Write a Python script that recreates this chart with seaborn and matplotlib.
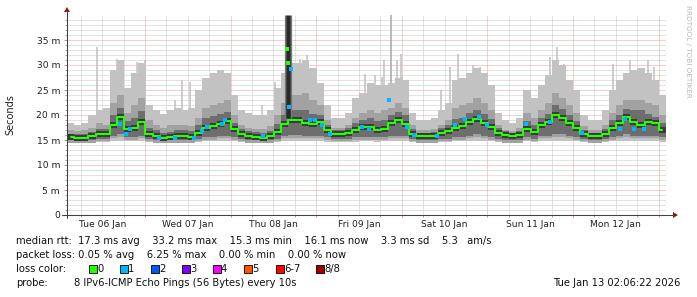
import numpy as np
import pandas as pd
import matplotlib
matplotlib.use("Agg")
import matplotlib.pyplot as plt
from matplotlib.patches import Rectangle, Polygon
from matplotlib.lines import Line2D
import seaborn as sns

# ---------------- data (hours since Tue 06 Jan 02:06, values in ms) ----------------
bin_hours = list(range(1, 168, 2))  # 2-hour bins, centre hours

rtt_median = [15.6, 15.5, 15.5, 15.8, 16.3, 16.2, 18.0, 19.6, 17.2, 17.5, 18.6, 16.3,
              15.8, 15.5, 15.6, 15.8, 15.8, 15.6, 16.4, 17.4, 17.8, 18.3, 18.8, 17.2,
              16.2, 15.8, 15.6, 15.5, 15.8, 16.6, 18.2, 19.0, 19.0, 18.5, 18.2, 18.6,
              17.0, 16.3, 16.3, 16.5, 17.0, 17.6, 17.6, 17.0, 17.3, 18.5, 19.0, 18.2,
              16.3, 15.8, 15.8, 15.8, 16.4, 16.8, 17.5, 17.8, 18.6, 19.2, 18.4, 17.6,
              16.5, 16.0, 15.8, 16.0, 17.2, 16.6, 18.0, 18.6, 20.0, 19.4, 18.5, 17.4,
              16.2, 15.8, 15.8, 16.2, 17.5, 18.5, 19.6, 18.6, 18.0, 18.6, 18.4, 17.0]

rtt_max = [18.5, 18.0, 18.5, 20.0, 21.0, 21.5, 29.0, 31.0, 25.5, 28.5, 30.5, 22.0,
           21.0, 20.3, 21.0, 21.5, 21.0, 21.5, 25.0, 27.5, 28.5, 29.0, 28.5, 24.0,
           21.0, 20.5, 20.0, 20.0, 21.0, 25.5, 28.5, 30.5, 30.5, 31.0, 29.5, 26.5,
           22.0, 19.5, 19.5, 20.5, 23.5, 24.5, 26.5, 26.0, 26.0, 26.5, 27.5, 27.0,
           20.5, 19.0, 19.0, 19.5, 21.0, 22.5, 27.0, 27.5, 28.5, 29.5, 28.5, 26.0,
           20.5, 19.0, 18.5, 19.5, 25.0, 23.5, 26.0, 28.0, 31.0, 30.0, 27.0, 25.0,
           20.0, 19.0, 19.0, 21.0, 25.0, 27.0, 28.5, 29.0, 29.5, 28.5, 27.0, 24.0]

rtt_p7 = [17.0, 16.8, 17.0, 17.5, 18.5, 18.0, 22.5, 24.0, 20.5, 22.0, 23.5, 19.0,
          18.0, 17.5, 18.0, 18.0, 18.0, 17.8, 19.5, 21.5, 22.0, 22.5, 23.0, 20.0,
          18.0, 17.5, 17.3, 17.2, 17.8, 20.0, 22.5, 24.0, 24.0, 24.5, 23.0, 22.0,
          19.0, 17.5, 17.5, 18.0, 19.5, 20.5, 21.0, 20.5, 21.0, 21.5, 22.5, 21.5,
          18.0, 17.0, 17.0, 17.2, 18.0, 19.0, 21.5, 22.0, 22.5, 23.5, 22.5, 21.0,
          18.0, 17.0, 16.8, 17.5, 20.5, 19.5, 21.0, 22.5, 24.5, 23.5, 22.0, 20.5,
          17.8, 17.0, 17.0, 18.0, 20.5, 22.0, 23.0, 23.0, 23.0, 22.5, 22.0, 20.0]

rtt_p6 = [16.3, 16.2, 16.3, 16.7, 17.3, 17.3, 20.0, 21.5, 18.8, 19.5, 20.8, 17.5,
          17.0, 16.5, 16.7, 17.0, 17.0, 16.8, 18.0, 19.3, 19.8, 20.2, 20.6, 18.5,
          17.2, 16.8, 16.6, 16.5, 16.8, 18.3, 20.0, 21.0, 21.0, 21.0, 20.2, 20.0,
          18.0, 17.0, 17.0, 17.5, 18.3, 19.0, 19.3, 18.7, 19.0, 20.0, 20.6, 20.0,
          17.2, 16.5, 16.5, 16.7, 17.5, 18.0, 19.2, 19.5, 20.5, 21.0, 20.2, 19.2,
          17.5, 16.8, 16.5, 16.8, 18.7, 18.0, 19.5, 20.3, 22.0, 21.3, 20.0, 18.8,
          17.1, 16.5, 16.5, 17.2, 19.0, 20.0, 21.2, 21.1, 21.0, 20.3, 19.7, 18.3]

rtt_p3 = [15.0, 15.0, 15.0, 15.0, 15.3, 15.3, 15.9, 16.2, 15.6, 15.6, 15.9, 15.3,
          15.0, 15.0, 15.0, 15.0, 15.0, 15.0, 15.3, 15.6, 15.6, 15.9, 15.9, 15.6,
          15.3, 15.0, 15.0, 15.0, 15.0, 15.3, 15.9, 16.0, 16.0, 15.9, 15.9, 15.9,
          15.6, 15.3, 15.3, 15.3, 15.6, 15.6, 15.6, 15.6, 15.6, 15.9, 15.9, 15.9,
          15.3, 15.0, 15.0, 15.0, 15.3, 15.3, 15.6, 15.6, 15.9, 16.2, 15.9, 15.6,
          15.3, 15.0, 15.0, 15.0, 15.6, 15.3, 15.9, 15.9, 16.2, 16.2, 15.9, 15.6,
          15.3, 15.0, 15.0, 15.3, 15.6, 15.9, 16.2, 15.9, 15.9, 15.9, 15.9, 15.6]

rtt_min = [14.6, 14.6, 14.6, 14.6, 14.6, 14.6, 14.8, 14.8, 14.8, 14.8, 14.8, 14.6,
           14.6, 14.6, 14.6, 14.6, 14.6, 14.6, 14.6, 14.8, 14.8, 14.8, 14.8, 14.8,
           14.6, 14.6, 14.6, 14.6, 14.6, 14.6, 14.8, 14.8, 14.8, 14.8, 14.8, 14.8,
           14.6, 14.6, 14.6, 14.6, 14.6, 14.8, 14.8, 14.6, 14.8, 14.8, 14.8, 14.8,
           14.6, 14.6, 14.6, 14.6, 14.6, 14.6, 14.8, 14.8, 14.8, 14.8, 14.8, 14.8,
           14.6, 14.6, 14.6, 14.6, 14.8, 14.6, 14.8, 14.8, 14.8, 14.8, 14.8, 14.8,
           14.6, 14.6, 14.6, 14.6, 14.8, 14.8, 14.8, 14.8, 14.8, 14.8, 14.8, 14.6]

# isolated short spikes of the smoke (hour, top in ms, shade level)
spike_hours = [8.4, 13.9, 19.6, 21.9, 30.3, 32.2, 34.4, 41.0, 42.4, 54.6, 58.4, 65.4, 67.3,
               83.6, 86.5, 88.4, 88.9, 90.8, 92.5, 93.7, 94.0, 105.0, 107.5, 109.6, 114.0,
               115.9, 135.6, 137.5, 139.3, 153.2, 158.0, 163.0, 164.5]
spike_tops = [33.6, 31.3, 30.6, 31.0, 23.0, 27.0, 26.7, 28.3, 28.0, 22.0, 26.7, 31.3, 32.0,
              28.3, 28.0, 27.7, 31.0, 40.0, 31.0, 32.3, 27.7, 25.0, 29.7, 32.3, 30.0,
              29.7, 31.7, 33.7, 30.3, 30.3, 31.0, 31.0, 29.7]
spike_shade = [0, 0, 0, 0, 0, 0, 0, 0, 0, 0, 0, 0, 0,
               0, 0, 0, 0, 1, 0, 0, 0, 0, 0, 0, 0,
               0, 0, 0, 0, 0, 0, 0, 0]

# the big spike on Thursday
big_spike_hours = [61.9]
big_spike_top = [40.0]
big_spike_bottom = [19.5]
big_spike_median_hours = [61.6, 62.1]
big_spike_median_values = [33.3, 30.5]

# median samples with 1 lost ping (blue)
loss1_hours = [14.9, 16.6, 17.8, 25.9, 30.3, 35.5, 37.8, 39.2, 43.4, 44.4, 55.1, 62.3, 62.9,
               68.2, 69.6, 71.5, 73.8, 82.7, 84.6, 90.4, 95.4, 97.2, 103.8, 108.9, 111.7,
               115.5, 117.8, 128.8, 135.6, 144.5, 155.2, 156.6, 158.9, 161.8]
loss1_values = [18.3, 16.2, 17.3, 15.5, 15.5, 15.5, 16.9, 17.7, 18.2, 19.0, 15.8, 21.7, 29.3,
                19.0, 19.0, 18.0, 16.3, 17.7, 17.3, 23.0, 17.7, 16.0, 15.9, 18.0, 19.3,
                19.7, 18.0, 18.3, 18.7, 16.5, 17.3, 19.3, 17.3, 17.3]

day_labels = ["Tue 06 Jan", "Wed 07 Jan", "Thu 08 Jan", "Fri 09 Jan", "Sat 10 Jan", "Sun 11 Jan", "Mon 12 Jan"]
y_tick_values = [0, 5, 10, 15, 20, 25, 30, 35]
y_tick_labels = ["0", "5 m", "10 m", "15 m", "20 m", "25 m", "30 m", "35 m"]

loss_colors = ["#26ff00", "#00b8ff", "#0059ff", "#7e00ff", "#ff00ff", "#ff5500", "#ff0000", "#a10000"]
loss_names = ["0", "1", "2", "3", "4", "5", "6-7", "8/8"]

median_line = "median rtt:  17.3 ms avg    33.2 ms max    15.3 ms min    16.1 ms now    3.3 ms sd    5.3   am/s"
loss_line = "packet loss: 0.05 % avg    6.25 % max    0.00 % min    0.00 % now"
probe_text = "8 IPv6-ICMP Echo Pings (56 Bytes) every 10s"
stamp_text = "Tue Jan 13 02:06:22 2026"

# ---------------- figure ----------------
sns.set_theme(style="white")
plt.rcParams['font.family'] = ['DejaVu Sans']
W, H = 697, 297
fig = plt.figure(figsize=(W / 100, H / 100), dpi=100, facecolor="white")

def fx(x):
    return x / W

def fy(y):
    return 1 - y / H

X0, X1, Y0, Y1 = 67, 666, 215, 15
ax = fig.add_axes([fx(X0), fy(Y0), (X1 - X0) / W, (Y0 - Y1) / H])
ax.set_facecolor("white")
ax.set_xlim(0, 168)
ax.set_ylim(0, 40)
for s in ax.spines.values():
    s.set_visible(False)

# grid (below the smoke)
minor_col = "#c8c8c8"
major_col = "#e8a0a0"
dot = (0, (1, 1))
for v in range(1, 40):
    if v % 5:
        ax.axhline(v, color=minor_col, lw=0.72, ls=dot, zorder=0)
for v in range(5, 40, 5):
    ax.axhline(v, color=major_col, lw=0.72, ls=dot, zorder=0.5)
midnight0 = 21.9
h = midnight0 - 18
while h < 168:
    is_major = abs(((h - midnight0) / 24) - round((h - midnight0) / 24)) < 1e-6
    ax.axvline(h, color=major_col if is_major else minor_col, lw=0.72, ls=dot,
               zorder=0.5 if is_major else 0)
    h += 6

# smoke
edges_w = 2.0
b = np.array(bin_hours, dtype=float)
shade_cols = ["#c0c0c0", "#a6a6a6"]
ax.vlines(spike_hours, [rtt_median[int(hh // 2)] for hh in spike_hours], spike_tops,
          colors=[shade_cols[s] for s in spike_shade], lw=1.1, zorder=1.5)
ax.bar(b, np.array(rtt_max) - np.array(rtt_min), bottom=rtt_min, width=edges_w,
       color="#c2c2c2", linewidth=0, zorder=2)
ax.bar(b, np.array(rtt_p7) - np.array(rtt_p3) + 0.5, bottom=np.array(rtt_p3) - 0.5, width=edges_w,
       color="#a2a2a2", linewidth=0, zorder=3)
ax.bar(b, np.array(rtt_p6) - np.array(rtt_p3), bottom=rtt_p3, width=edges_w,
       color="#6e6e6e", linewidth=0, zorder=4)
ax.bar(b, np.full(len(b), 1.2), bottom=np.array(rtt_median) - 0.6, width=edges_w,
       color="#3a3a3a", linewidth=0, zorder=5)

ax.vlines(big_spike_hours, big_spike_bottom, big_spike_top, colors="#2a2a2a", lw=3.4, zorder=6)
ax.vlines([61.1, 62.8], [19.0, 19.0], [40.0, 40.0], colors="#777777", lw=0.9, zorder=6)

# median line
med_df = pd.DataFrame({"hour": b, "median": rtt_median})
sns.lineplot(data=med_df, x="hour", y="median", ax=ax, color=loss_colors[0], lw=1.5,
             drawstyle="steps-mid", zorder=7, legend=False)
sns.scatterplot(x=big_spike_median_hours, y=big_spike_median_values, ax=ax, color=loss_colors[0],
                marker="s", s=5, linewidth=0, zorder=8, legend=False)
sns.scatterplot(x=loss1_hours, y=loss1_values, ax=ax, color=loss_colors[1], marker="s",
                s=5, linewidth=0, zorder=8, legend=False)

# ticks and labels
fs = 6.6
ax.set_yticks(y_tick_values)
ax.set_yticklabels(y_tick_labels, fontsize=fs, color="#202020")
ax.set_yticks(range(0, 40), minor=True)
noon = [midnight0 - 12 + 24 * i for i in range(7)]
ax.set_xticks(noon)
ax.set_xticklabels(day_labels, fontsize=fs, color="#202020")
ax.set_xticks([midnight0 - 18 + 6 * i for i in range(28)], minor=True)
ax.tick_params(axis="both", which="both", direction="out", color="#909090", width=0.6)
ax.tick_params(axis="y", which="major", length=2.5, pad=2.5)
ax.tick_params(axis="y", which="minor", length=1.5)
ax.tick_params(axis="x", which="major", length=0, pad=3.5)
ax.tick_params(axis="x", which="minor", length=1.5)
ax.set_xlabel("")
ax.set_ylabel("")
ax.yaxis.set_ticks_position("left")
ax.xaxis.set_ticks_position("bottom")

fig.text(fx(10), fy(115), "Seconds", rotation=90, fontsize=7, va="center", ha="center", color="#202020")

# axis lines with arrows
fig.add_artist(Line2D([fx(62), fx(673)], [fy(215), fy(215)], color="#404040", lw=0.75))
fig.add_artist(Line2D([fx(67), fx(67)], [fy(218), fy(12)], color="#404040", lw=0.75))
fig.add_artist(Polygon([[fx(673), fy(212)], [fx(678), fy(215)], [fx(673), fy(218)]], closed=True,
                       facecolor="#8b1a1a", edgecolor="none"))
fig.add_artist(Polygon([[fx(64), fy(12)], [fx(67), fy(7)], [fx(70), fy(12)]], closed=True,
                       facecolor="#8b1a1a", edgecolor="none"))

# watermark
fig.text(fx(688), fy(5), "RRDTOOL / TOBI OETIKER", rotation=270, fontsize=5.2, color="#b8b8b8",
         va="top", ha="center")

# legend block
tc = "#101010"
fig.text(fx(16), fy(241), median_line, fontsize=fs + 0.6, va="center", ha="left", color=tc)
fig.text(fx(16), fy(255), loss_line, fontsize=fs + 0.6, va="center", ha="left", color=tc)
fig.text(fx(16), fy(269), "loss color:", fontsize=fs + 0.6, va="center", ha="left", color=tc)
box_x = [89, 120, 151, 182, 213, 244, 276, 316]
for bx, c, name in zip(box_x, loss_colors, loss_names):
    fig.add_artist(Rectangle((fx(bx), fy(273)), 8 / W, 8 / H, transform=fig.transFigure,
                             facecolor=c, edgecolor="black", lw=0.6))
    fig.text(fx(bx + 8), fy(269), name, fontsize=fs + 0.6, va="center", ha="left", color=tc)
fig.text(fx(16), fy(283), "probe:", fontsize=fs + 0.6, va="center", ha="left", color=tc)
fig.text(fx(74), fy(283), probe_text, fontsize=fs + 0.6, va="center", ha="left", color=tc)
fig.text(fx(680), fy(283), stamp_text, fontsize=fs + 0.6, va="center", ha="right", color=tc)

fig.savefig("out.png", dpi=100, facecolor="white")
